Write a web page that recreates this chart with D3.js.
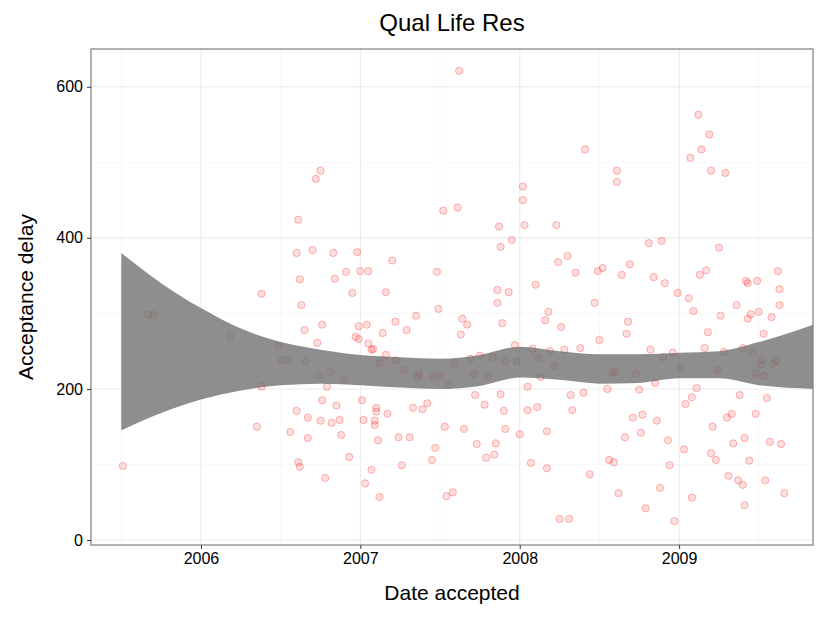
<!DOCTYPE html>
<html><head><meta charset="utf-8">
<script src="https://cdn.jsdelivr.net/npm/d3@7"></script>
<style>body{margin:0;background:#fff}text{font-family:"Liberation Sans",Arial,sans-serif}</style>
</head><body><svg id="chart" width="825" height="618"></svg>
<script>
var dateAccepted = [2005.51,2005.67,2005.70,2006.18,2006.35,2006.38,2006.38,2006.49,2006.51,2006.55,
2006.56,2006.60,2006.60,2006.61,2006.62,2006.61,2006.62,2006.63,2006.65,2006.66,2006.67,2006.67,
2006.70,2006.72,2006.75,2006.73,2006.74,2006.76,2006.75,2006.76,2006.78,2006.79,2006.81,2006.82,2006.83,2006.84,2006.85,2006.87,2006.88,2006.90,2006.91,2006.93,2006.95,2006.97,2006.98,2006.99,2006.99,2007.00,2007.01,2007.02,2007.03,2007.04,2007.05,2007.05,2007.07,2007.07,2007.08,2007.09,2007.09,2007.10,2007.10,2007.11,2007.12,2007.12,2007.14,2007.16,2007.16,2007.17,2007.20,2007.22,2007.22,2007.24,2007.26,2007.27,2007.29,2007.31,2007.33,2007.35,2007.36,2007.37,2007.39,2007.42,2007.45,2007.46,2007.47,2007.48,2007.49,2007.50,2007.52,2007.53,2007.54,2007.55,2007.58,2007.59,2007.61,2007.62,2007.63,2007.64,2007.65,2007.67,2007.69,2007.71,2007.72,2007.73,2007.75,2007.78,2007.79,2007.80,2007.83,2007.84,2007.85,2007.86,2007.86,2007.87,2007.88,2007.88,2007.89,2007.90,2007.91,2007.91,2007.93,2007.95,2007.97,2007.98,2008.00,2008.02,2008.02,2008.03,2008.05,2008.05,2008.07,2008.08,2008.10,2008.11,2008.12,2008.13,2008.16,2008.17,2008.17,2008.18,2008.19,2008.22,2008.23,2008.24,2008.25,2008.26,2008.28,2008.30,2008.31,2008.32,2008.33,2008.35,2008.38,2008.40,2008.41,2008.44,2008.47,2008.49,2008.50,2008.52,2008.55,2008.56,2008.58,2008.59,2008.60,2008.61,2008.61,2008.62,2008.64,2008.66,2008.67,2008.68,2008.69,2008.71,2008.73,2008.75,2008.76,2008.77,2008.79,2008.81,2008.82,2008.84,2008.85,2008.86,2008.88,2008.89,2008.90,2008.91,2008.93,2008.94,2008.96,2008.97,2008.99,2009.01,2009.03,2009.04,2009.06,2009.07,2009.08,2009.08,2009.09,2009.11,2009.12,2009.13,2009.14,2009.16,2009.17,2009.18,2009.19,2009.20,2009.20,2009.21,2009.23,2009.24,2009.25,2009.26,2009.28,2009.29,2009.30,2009.31,2009.33,2009.34,2009.36,2009.37,2009.38,2009.40,2009.40,2009.41,2009.41,2009.42,2009.43,2009.43,2009.44,2009.45,2009.46,2009.48,2009.48,2009.49,2009.50,2009.51,2009.52,2009.53,2009.53,2009.54,2009.55,2009.57,2009.58,2009.59,2009.61,2009.62,2009.63,2009.63,2009.64,2009.66];
var delay = [98,298,298,270,150,326,203,257,238,238,
143,171,380,424,345,103,97,311,278,237,162,135,
384,478,489,261,218,285,158,185,82,203,222,155,380,346,178,159,139,213,355,110,327,269,381,283,266,356,185,159,75,285,356,260,252,93,253,152,158,170,175,132,234,57,274,328,245,167,370,289,238,136,99,225,278,136,175,297,216,221,173,181,106,216,122,355,306,217,436,150,58,205,63,234,440,621,272,293,147,285,240,220,192,127,244,179,109,216,242,113,128,314,331,415,388,193,287,171,237,147,328,397,258,237,140,468,450,417,203,172,102,253,338,176,241,216,291,144,95,302,250,230,417,368,28,282,252,376,28,192,172,354,254,195,517,87,314,356,265,360,200,106,222,103,222,489,474,62,351,136,273,289,365,162,220,199,142,166,42,393,252,348,208,158,69,396,242,340,132,99,248,25,327,229,120,180,320,506,189,56,303,201,563,351,517,254,357,275,537,489,115,150,106,225,387,297,249,486,162,85,167,128,311,79,192,73,254,135,46,343,293,340,105,299,249,167,221,343,302,232,238,217,273,79,188,130,295,233,237,356,332,311,127,62];
// smoother band
var bandX = [2005.5,2005.75,2006,2006.25,2006.5,2006.75,2007,2007.25,2007.5,2007.75,2008,2008.25,2008.5,2008.75,2009,2009.25,2009.5,2009.84];
var bandHi = [380,340,307,280,262,252,245,242,240,245,256,250,246,246,248,250,262,285];
var bandLo = [145,168,186,198,205,207,205,202,200,204,215,212,207,208,214,214,205,200];

var svg = d3.select("#chart");
var m = {l:91, r:12, t:49, b:73};
var W = 825, H = 618;
var x = d3.scaleLinear().domain([2005.31, 2009.84]).range([m.l, W - m.r]);
var y = d3.scaleLinear().domain([-6.6, 650]).range([H - m.b, m.t]);

var g = svg.append("g");
var xMinor = d3.range(2005.5, 2009.9, 1), yMinor = [100,300,500];
g.selectAll(".gxm").data(xMinor).enter().append("line")
  .attr("x1", x).attr("x2", x).attr("y1", m.t).attr("y2", H - m.b).attr("stroke", "#f2f2f2").attr("stroke-width", 0.6);
g.selectAll(".gym").data(yMinor).enter().append("line")
  .attr("y1", y).attr("y2", y).attr("x1", m.l).attr("x2", W - m.r).attr("stroke", "#f2f2f2").attr("stroke-width", 0.6);
g.selectAll(".gx").data([2006,2007,2008,2009]).enter().append("line")
  .attr("x1", x).attr("x2", x).attr("y1", m.t).attr("y2", H - m.b).attr("stroke", "#ebebeb").attr("stroke-width", 1.1);
g.selectAll(".gy").data([0,200,400,600]).enter().append("line")
  .attr("y1", y).attr("y2", y).attr("x1", m.l).attr("x2", W - m.r).attr("stroke", "#ebebeb").attr("stroke-width", 1.1);

g.selectAll("circle").data(dateAccepted).enter().append("circle")
  .attr("cx", function (d) { return x(d); })
  .attr("cy", function (d, i) { return y(delay[i]); })
  .attr("r", 3.6)
  .attr("fill", "rgba(255,0,0,0.13)").attr("stroke", "rgba(255,0,0,0.28)").attr("stroke-width", 1);

var area = d3.area().curve(d3.curveMonotoneX)
  .x(function (d) { return x(d); })
  .y0(function (d, i) { return y(bandLo[i]); })
  .y1(function (d, i) { return y(bandHi[i]); });
g.append("path").datum(bandX).attr("d", area).attr("fill", "#6e6e6e").attr("fill-opacity", 0.78);

g.append("rect").attr("x", m.l).attr("y", m.t).attr("width", W - m.l - m.r).attr("height", H - m.t - m.b)
  .attr("fill", "none").attr("stroke", "#7f7f7f").attr("stroke-width", 1.2);

var xa = svg.append("g").attr("transform", "translate(0," + (H - m.b) + ")")
  .call(d3.axisBottom(x).tickValues([2006,2007,2008,2009]).tickFormat(d3.format("d")).tickSize(4).tickPadding(4));
var ya = svg.append("g").attr("transform", "translate(" + m.l + ",0)")
  .call(d3.axisLeft(y).tickValues([0,200,400,600]).tickSize(4).tickPadding(4));
[xa, ya].forEach(function (a) {
  a.select(".domain").remove();
  a.selectAll("line").attr("stroke", "#333");
  a.selectAll("text").attr("font-size", 16).attr("fill", "#000");
});

svg.append("text").attr("x", (m.l + W - m.r) / 2).attr("y", 31).attr("text-anchor", "middle").attr("font-size", 24).text("Qual Life Res");
svg.append("text").attr("x", (m.l + W - m.r) / 2).attr("y", 600).attr("text-anchor", "middle").attr("font-size", 21).text("Date accepted");
svg.append("text").attr("transform", "translate(33," + ((m.t + H - m.b) / 2) + ") rotate(-90)").attr("text-anchor", "middle").attr("font-size", 21).text("Acceptance delay");
</script></body></html>
